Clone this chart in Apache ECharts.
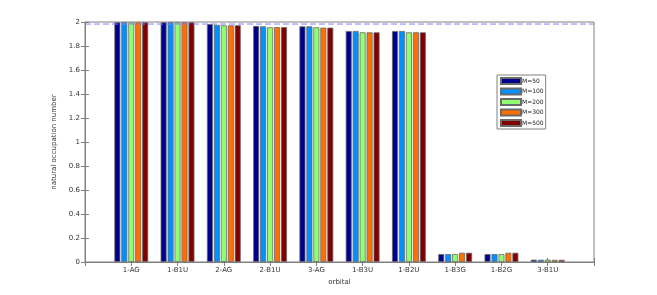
<!DOCTYPE html>
<html><head><meta charset="utf-8">
<script src="https://cdn.jsdelivr.net/npm/echarts@6/dist/echarts.min.js"></script>
<style>html,body{margin:0;padding:0;background:#fff}#c{width:657px;height:295px}</style>
</head><body><div id="c"></div>
<script>
const categories = ['1-AG','1-B1U','2-AG','2-B1U','3-AG','1-B3U','1-B2U','1-B3G','1-B2G','3-B1U'];
const seriesNames = ['M=50','M=100','M=200','M=300','M=500'];
const m50  = [1.998,1.998,1.983,1.967,1.964,1.925,1.925,0.066,0.066,0.019];
const m100 = [1.998,1.998,1.976,1.964,1.964,1.925,1.925,0.066,0.066,0.019];
const m200 = [1.997,1.997,1.972,1.956,1.956,1.914,1.914,0.066,0.066,0.020];
const m300 = [1.997,1.997,1.972,1.958,1.953,1.914,1.914,0.077,0.077,0.018];
const m500 = [1.997,1.997,1.973,1.958,1.953,1.914,1.914,0.077,0.077,0.018];
const refLine = 1.983;
const yTicks = ['0','0.2','0.4','0.6','0.8','1','1.2','1.4','1.6','1.8','2'];
const colors = ['#00008f','#0090ff','#90ff70','#ff7000','#800000'];
const allVals = [m50,m100,m200,m300,m500];

const font = 'DejaVu Sans';
const chart = echarts.init(document.getElementById('c'));
const series = allVals.map((v,s)=>({
  name: seriesNames[s], type:'bar', barWidth:6, barGap:'16%',
  data: categories.map((c,i)=>[i+1, v[i]]),
  itemStyle:{color:colors[s], borderColor:'#6a6a6a', borderWidth:0.8},
  animation:false
}));
series.push({
  type:'line', data:[[0,refLine],[categories.length+1,refLine]], symbol:'none',
  lineStyle:{color:'#8080ff', width:1, type:[6,3]}, silent:true, animation:false
});
const axisLine = {show:true, lineStyle:{color:'#808080', width:1}};
chart.setOption({
  animation:false,
  grid:{left:85, right:63, top:22, bottom:33, show:true, borderColor:'#808080', borderWidth:1},
  legend:{
    data: seriesNames, orient:'vertical', left:497, top:75, itemWidth:20, itemHeight:6, itemGap:2.5,
    padding:[2,2,2,3], borderColor:'#808080', borderWidth:1,
    textStyle:{fontFamily:font, fontSize:6, color:'#222', padding:[0,0,0,-4]},
    icon:'rect'
  },
  xAxis:[{
    type:'value', min:0, max:categories.length+1, interval:1,
    name:'orbital', nameLocation:'middle', nameGap:15,
    nameTextStyle:{fontFamily:font, fontSize:7, color:'#333'},
    axisLine, axisTick:{show:true, inside:true, length:4, lineStyle:{color:'#808080'}},
    axisLabel:{fontFamily:font, fontSize:7, color:'#333', margin:5,
      formatter:v=> (v>=1 && v<=categories.length) ? categories[v-1] : ''},
    splitLine:{show:false}
  },{
    type:'value', position:'top', min:0, max:categories.length+1, interval:1,
    axisLine, axisTick:{show:true, inside:true, length:4, lineStyle:{color:'#808080'}},
    axisLabel:{show:false}, splitLine:{show:false}
  }],
  yAxis:[{
    type:'value', min:0, max:2, interval:0.2,
    name:'natural occupation number', nameLocation:'middle', nameGap:20,
    nameTextStyle:{fontFamily:font, fontSize:7, color:'#333'},
    axisLine, axisTick:{show:true, inside:true, length:4, lineStyle:{color:'#808080'}},
    axisLabel:{fontFamily:font, fontSize:7, color:'#333', margin:5,
      formatter:(v)=> yTicks[Math.round(v/0.2)]},
    splitLine:{show:false}
  },{
    type:'value', position:'right', min:0, max:2, interval:0.2,
    axisLine, axisTick:{show:true, inside:true, length:4, lineStyle:{color:'#808080'}},
    axisLabel:{show:false}, splitLine:{show:false}
  }],
  series
});
</script></body></html>
